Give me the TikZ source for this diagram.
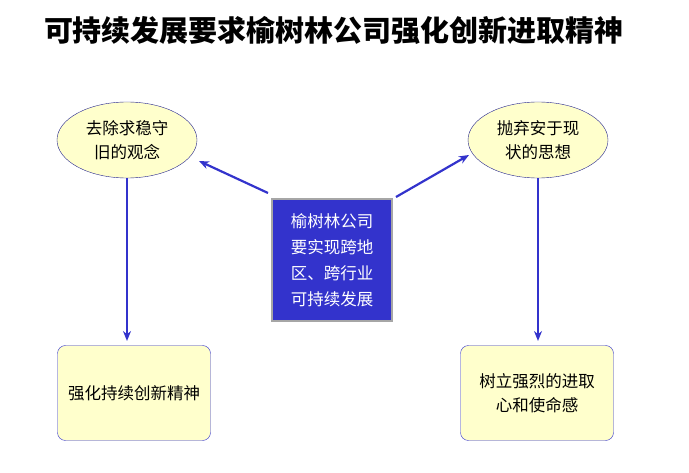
\documentclass[tikz,border=0pt]{standalone}
\usepackage{fontspec}
\setmainfont{Noto Sans CJK SC}
\usetikzlibrary{shapes.geometric,arrows.meta}
\definecolor{pale}{HTML}{FFFFCC}
\definecolor{bl}{HTML}{3333CC}
\begin{document}
\begin{tikzpicture}[x=1pt,y=-1pt,
 ell/.style={ellipse,draw=bl!70!black,fill=pale,minimum width=140pt,minimum height=76pt,inner sep=0pt,align=center,font=\fontsize{16.5}{24}\selectfont},
 rbox/.style={rectangle,rounded corners=8pt,draw=bl,fill=pale,minimum width=153pt,minimum height=95pt,align=center,font=\fontsize{16.5}{24}\selectfont},
 arr/.style={-{Stealth[length=10pt,width=8pt]},draw=bl,line width=2.2pt}]
\useasboundingbox (0,0) rectangle (689,473);
\node[font=\bfseries\fontsize{29}{32}\selectfont] (t) at (334,30) {可持续发展要求榆树林公司强化创新进取精神};
\node[ell] (e1) at (127,140) {去除求稳守\\旧的观念};
\node[ell] (e2) at (538,140) {抛弃安于现\\状的思想};
\node[draw=gray!70,line width=2.5pt,fill=bl,text=white,minimum width=120pt,minimum height=122pt,align=center,font=\fontsize{16.5}{26}\selectfont] (c) at (332,260) {榆树林公司\\要实现跨地\\区、跨行业\\可持续发展};
\node[rbox] (b1) at (134,393) {强化持续创新精神};
\node[rbox] (b2) at (537,393) {树立强烈的进取\\心和使命感};
\coordinate (c1) at (268,193);
\coordinate (c2) at (396,197);
\draw[arr] (c1) -- (199,161);
\draw[arr] (c2) -- (469,155);
\draw[arr] (e1.south) -- (127,341);
\draw[arr] (e2.south) -- (538,341);
\end{tikzpicture}
\end{document}
